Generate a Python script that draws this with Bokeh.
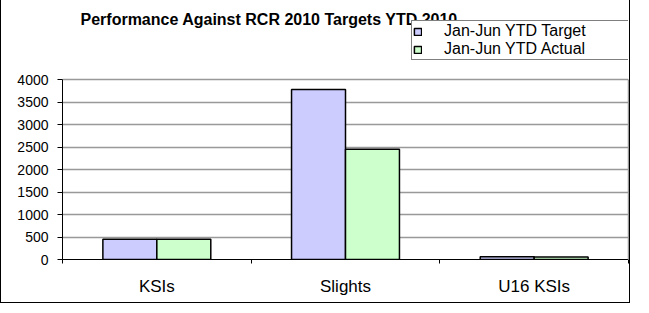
from bokeh.plotting import figure
from bokeh.models import (FactorRange, Range1d, LinearAxis, CategoricalAxis, FixedTicker,
                          Legend, LegendItem, Label, ColumnDataSource)
from bokeh.transform import dodge
from bokeh.embed import file_html
from bokeh.resources import INLINE

categories = ["KSIs", "Slights", "U16 KSIs"]
target = [450, 3780, 60]
actual = [448, 2450, 57]
series_names = ["Jan-Jun YTD Target", "Jan-Jun YTD Actual"]
title_text = "Performance Against RCR 2010 Targets YTD 2010"
y_ticks = [0, 500, 1000, 1500, 2000, 2500, 3000, 3500, 4000]

src = ColumnDataSource(data=dict(cat=categories, target=target, actual=actual))

FONT = "Liberation Sans"

p = figure(width=630, height=303, output_backend="svg", toolbar_location=None,
           x_range=FactorRange(factors=categories, range_padding=0),
           y_range=Range1d(0, 5756), x_axis_location=None,
           min_border_left=61, min_border_right=3, min_border_top=0, min_border_bottom=44)

r1 = p.vbar(x=dodge("cat", -0.143, range=p.x_range), top="target", width=0.286, source=src,
            fill_color="#CCCCFF", line_color="black", line_width=1.5)
r2 = p.vbar(x=dodge("cat", 0.143, range=p.x_range), top="actual", width=0.286, source=src,
            fill_color="#CCFFCC", line_color="black", line_width=1.5)

yax = p.yaxis[0]
yax.ticker = FixedTicker(ticks=y_ticks)
yax.bounds = (0, 4000)
yax.minor_tick_line_color = None
yax.major_tick_out = 5
yax.major_tick_in = 0
yax.axis_line_color = "black"
yax.major_tick_line_color = "black"
yax.major_label_text_font = FONT
yax.major_label_text_font_size = "14px"
yax.major_label_text_color = "black"
yax.major_label_standoff = 9

rax = LinearAxis(ticker=FixedTicker(ticks=[]), bounds=(0, 4000), axis_line_color="#999999",
                 axis_line_width=1.5, major_tick_line_color=None, minor_tick_line_color=None,
                 major_label_text_font_size="0px", major_label_standoff=0)
p.add_layout(rax, "right")

tax = LinearAxis(ticker=FixedTicker(ticks=[0, 1, 2, 3]),
                 major_tick_out=4, major_tick_in=0, minor_tick_line_color=None,
                 major_label_text_font_size="0px", major_label_standoff=0,
                 axis_line_color="black", major_tick_line_color="black")
p.add_layout(tax, "below")
cax = CategoricalAxis(axis_line_color=None, major_tick_line_color=None,
                      major_label_text_font=FONT, major_label_text_font_size="17px",
                      major_label_text_color="black", major_label_standoff=7)
p.add_layout(cax, "below")

p.xgrid.grid_line_color = None
p.ygrid.ticker = FixedTicker(ticks=y_ticks)
p.ygrid.grid_line_color = "#999999"
p.ygrid.grid_line_width = 1.5
p.outline_line_color = None

title = Label(x=18, y=240, x_units="screen", y_units="screen", text=title_text,
              text_font=FONT, text_font_size="16px", text_font_style="bold",
              text_color="black", text_baseline="middle", text_align="left")
p.add_layout(title)

legend = Legend(items=[LegendItem(label=series_names[0], renderers=[r1]),
                       LegendItem(label=series_names[1], renderers=[r2])],
                location=(349, 199), padding=1, spacing=0, margin=0,
                glyph_width=9, glyph_height=9, label_standoff=22, label_width=186,
                label_height=17, label_text_font=FONT, label_text_font_size="16px",
                label_text_color="black", border_line_color="black", border_line_width=1,
                background_fill_color="white", background_fill_alpha=1.0)
p.add_layout(legend, "center")

p.styles = {"border-left": "1px solid black", "border-right": "1px solid black",
            "border-bottom": "1px solid black"}

open("out.html", "w").write(file_html(p, INLINE))
